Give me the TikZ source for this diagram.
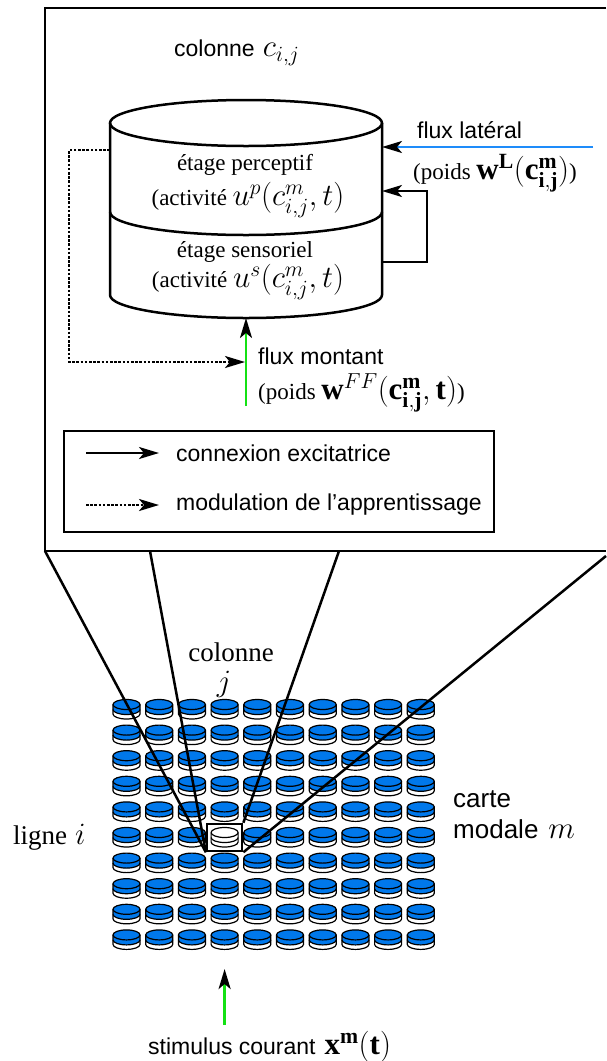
\RequirePackage{fix-cm}
\documentclass[tikz,border=0pt]{standalone}
\usepackage{fontspec}
\setmainfont{Liberation Serif}
\setsansfont{Liberation Sans}
\usetikzlibrary{arrows.meta,positioning,calc}

\definecolor{mapblue}{RGB}{0,120,235}
\definecolor{latblue}{RGB}{30,140,250}
\definecolor{ffgreen}{RGB}{20,225,20}

% math is set larger than the surrounding text
\newcommand{\mth}[1]{{\fontsize{31}{35}\selectfont$#1$}}

\tikzset{
  thickline/.style={line width=2.5pt},
  excit/.style={line width=2.4pt,-{Stealth[length=20pt,width=12pt,inset=5pt,color=black]}},
  modul/.style={excit,dash pattern=on 2.6pt off 1.6pt},
  sanslabel/.style={font=\sffamily\fontsize{23}{27}\selectfont,inner sep=0pt},
  seriflabel/.style={font=\fontsize{23}{27}\selectfont,inner sep=0pt},
  biglabel/.style={font=\fontsize{27}{31}\selectfont,inner sep=0pt},
  bigsans/.style={font=\sffamily\fontsize{26}{30}\selectfont,inner sep=0pt},
}

\begin{document}
\begin{tikzpicture}[x=1pt,y=-1pt]
\useasboundingbox (0,0) rectangle (606,1061);

% zoomed column box
\draw[thickline] (606,8) -- (45,8) -- (45,551) -- (606,551);
\node[sanslabel,anchor=west] (coltitle) at (174,53) {colonne\hspace{8pt}\mth{c_{i,j}}};

% column cylinder
\draw[thickline,fill=white] (110,123) -- (110,295)
  arc[start angle=180,end angle=0,x radius=136,y radius=23] -- (382,123);
\draw[thickline] (246,123) ellipse[x radius=136,y radius=23];
\draw[thickline] (110,212) arc[start angle=180,end angle=0,x radius=136,y radius=23];
\node[seriflabel] (percep) at (245,165) {étage perceptif};
\node[seriflabel] (percepact) at (248,200) {(activité \mth{u^p(c^m_{i,j},t)}};
\node[seriflabel] (sensor) at (245,252) {étage sensoriel};
\node[seriflabel] (sensoract) at (248,282) {(activité \mth{u^s(c^m_{i,j},t)}};

% connexions
\coordinate (latsrc) at (593,147);
\coordinate (latdst) at (382,147);
\coordinate (loopout) at (382,262);
\coordinate (loopin) at (382,191);
\coordinate (modsrc) at (110,150);
\coordinate (modhit) at (245,362);
\coordinate (ffsrc) at (246,406);
\coordinate (cylbot) at (246,318);
\draw[excit,latblue] (latsrc) -- (latdst);
\draw[excit] (loopout) -- ++(45,0) |- (loopin);
\draw[modul] (modsrc) -- (69,150) |- (modhit);
\draw[excit,ffgreen] (ffsrc) -- (cylbot);
\node[sanslabel,anchor=west] (latname) at (417,130) {flux latéral};
\node[seriflabel,anchor=west] (latweight) at (413,173)
  {(poids \mth{\mathbf{w}^{\mathbf{L}}(\mathbf{c}^{\mathbf{m}}_{\mathbf{i,j}})})};
\node[sanslabel,anchor=west] (ffname) at (258,356) {flux montant};
\node[seriflabel,anchor=west] (ffweight) at (258,393)
  {(poids \mth{\mathbf{w}^{FF}(\mathbf{c}^{\mathbf{m}}_{\mathbf{i,j}},\mathbf{t})})};

% legend
\draw[thickline] (64,431) rectangle (494,532);
\coordinate (legAa) at (86,453);
\coordinate (legAb) at (159,453);
\coordinate (legBa) at (86,505);
\coordinate (legBb) at (159,505);
\draw[excit] (legAa) -- (legAb);
\draw[modul] (legBa) -- (legBb);
\node[sanslabel,anchor=west] (legA) at (176,453) {connexion excitatrice};
\node[sanslabel,anchor=west] (legB) at (176,505) {modulation de l'apprentissage};

% modal map
\foreach \r in {0,...,9}{
  \foreach \c in {0,...,9}{
    \pgfmathsetmacro{\cx}{126.5+32.7*\c}
    \pgfmathsetmacro{\cy}{704.5+25.6*\r}
    \def\topfill{mapblue}
    \ifnum\r=5 \ifnum\c=3 \def\topfill{white}\fi\fi
    \filldraw[fill=white,line width=1.2pt] (\cx-13.5,\cy+5) -- (\cx-13.5,\cy+9.5)
      arc[start angle=180,end angle=0,x radius=13.5,y radius=5] -- (\cx+13.5,\cy+5);
    \filldraw[fill=\topfill,line width=1.2pt] (\cx-13.5,\cy) -- (\cx-13.5,\cy+5)
      arc[start angle=180,end angle=0,x radius=13.5,y radius=5] -- (\cx+13.5,\cy)
      arc[start angle=0,end angle=-180,x radius=13.5,y radius=5] -- cycle;
    \draw[line width=1.2pt] (\cx-13.5,\cy)
      arc[start angle=180,end angle=0,x radius=13.5,y radius=5];
  }
}
\node[draw,thickline,minimum width=35pt,minimum height=27pt,inner sep=0pt] (sel) at (224.6,837.5) {};

% zoom funnel
\coordinate (fA) at (45,551);
\coordinate (fB) at (150,551);
\coordinate (fC) at (339,551);
\coordinate (fD) at (606,556);
\draw[thickline] (fA) -- (sel.south west);
\draw[thickline] (fB) -- (sel.south west);
\draw[thickline] (fC) -- (sel.north east);
\draw[thickline] (fD) -- (sel.south east);

\node[biglabel] (colj) at (231,652) {colonne};
\node[biglabel] (jlab) at (224,684) {\mth{j}};
\node[biglabel,anchor=west] (rowi) at (13,837) {ligne\hspace{8pt}\mth{i}};
\node[bigsans,anchor=west] (carte) at (453,799) {carte};
\node[bigsans,anchor=west] (modale) at (453,829) {modale\hspace{10pt}\mth{m}};

% stimulus
\coordinate (stimsrc) at (224.6,1025);
\coordinate (stimdst) at (224.6,969);
\draw[excit,ffgreen] (stimsrc) -- (stimdst);
\node[sanslabel,anchor=west] (stim) at (148,1047)
  {stimulus courant\hspace{9pt}\mth{\mathbf{x}^{\mathbf{m}}(\mathbf{t})}};
\end{tikzpicture}
\end{document}
